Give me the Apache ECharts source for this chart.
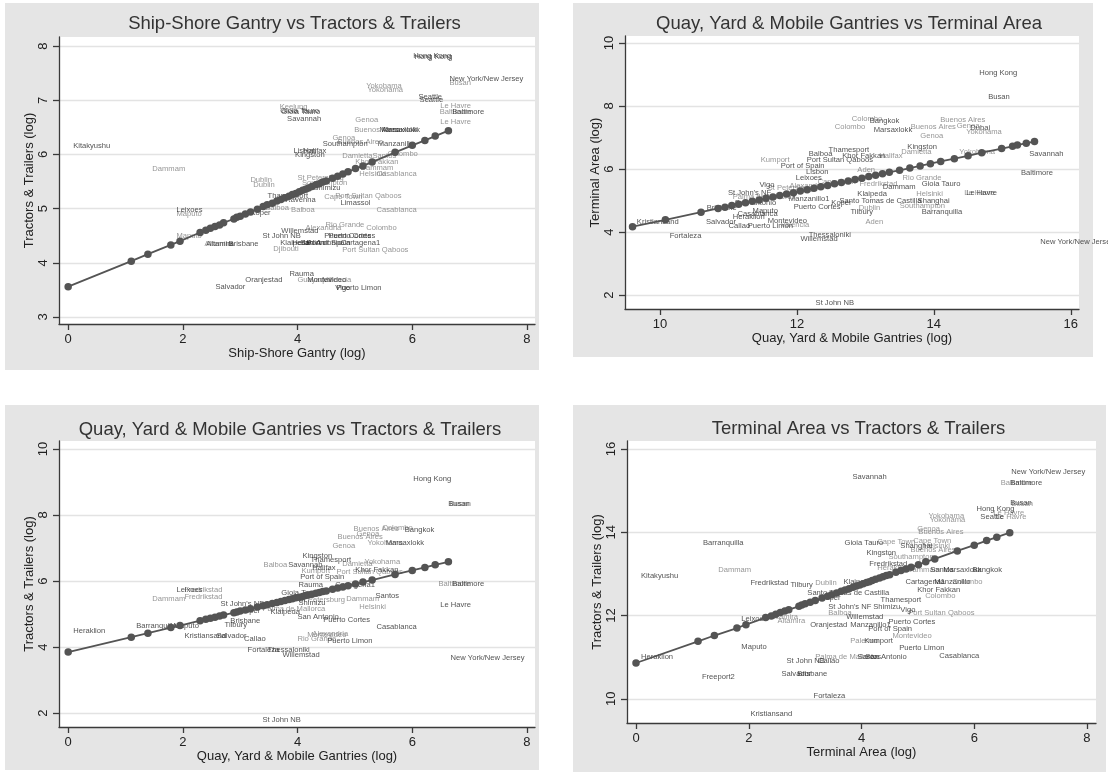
<!DOCTYPE html>
<html>
<head>
<meta charset="utf-8">
<script src="https://cdn.jsdelivr.net/npm/echarts@6.0.0/dist/echarts.min.js"></script>
<style>
html,body{margin:0;padding:0;background:#fff;}
#chart{width:1108px;height:776px;}
</style>
</head>
<body>
<div id="chart"></div>
<script>
// ---------------- DATA ----------------
const panelTitles = [
  "Ship-Shore Gantry vs Tractors & Trailers",
  "Quay, Yard & Mobile Gantries vs Terminal Area",
  "Quay, Yard & Mobile Gantries vs Tractors & Trailers",
  "Terminal Area vs Tractors & Trailers"
];
const xNames = ["Ship-Shore Gantry (log)", "Quay, Yard & Mobile Gantries (log)", "Quay, Yard & Mobile Gantries (log)", "Terminal Area (log)"];
const yNames = ["Tractors & Trailers (log)", "Terminal Area (log)", "Tractors & Trailers (log)", "Tractors & Trailers (log)"];

const p1XTicks = [0, 2, 4, 6, 8];
const p1YTicks = [3, 4, 5, 6, 7, 8];
const p2XTicks = [10, 12, 14, 16];
const p2YTicks = [2, 4, 6, 8, 10];
const p3XTicks = [0, 2, 4, 6, 8];
const p3YTicks = [2, 4, 6, 8, 10];
const p4XTicks = [0, 2, 4, 6, 8];
const p4YTicks = [10, 12, 14, 16];

// [name, x, y, shade(0 dark / 1 light)]
const p1Labels = [
  ["Kitakyushu",0.00,6.15,0],["Dammam",1.38,5.74,1],["Dublin",3.09,5.54,1],["Dublin",3.14,5.44,1],
  ["Leixoes",1.80,4.98,0],["Maputo",1.80,4.91,1],["Maputo",1.80,4.50,1],["Altamira",2.29,4.35,1],
  ["Altamira",2.32,4.35,0],["Brisbane",2.71,4.34,0],["St John NB",3.30,4.50,0],["Djibouti",3.49,4.26,1],
  ["Oranjestad",3.00,3.69,0],["Salvador",2.48,3.56,0],["Balboa",3.35,5.02,1],["Koper",3.09,4.93,0],
  ["Balboa",3.80,4.98,1],["Hong Kong",5.93,7.83,0],["Hong Kong",5.95,7.81,0],["New York/New Jersey",6.56,7.39,0],
  ["Busan",6.56,7.33,1],["Yokohama",5.11,7.26,1],["Yokohama",5.13,7.20,1],["Seattle",6.02,7.06,0],
  ["Seattle",6.04,7.00,0],["Le Havre",6.40,6.89,1],["Baltimore",6.39,6.78,1],["Baltimore",6.61,6.78,0],
  ["Le Havre",6.40,6.61,1],["Keelung",3.60,6.87,1],["Gioia Tauro",3.61,6.80,0],["Gioia Tauro",3.63,6.78,0],
  ["Savannah",3.73,6.65,0],["Genoa",4.92,6.63,1],["Buenos Aires",4.90,6.46,1],["Marsaxlokk",5.34,6.46,0],
  ["Marsaxlokk",5.38,6.46,0],["Genoa",4.52,6.31,1],["Buenos Aires",4.61,6.24,1],["Southampton",4.35,6.19,0],
  ["Manzanillo",5.31,6.19,0],["Lisbon",3.84,6.07,0],["Halifax",4.01,6.07,0],["Kingston",3.87,6.00,0],
  ["Damietta",4.69,5.98,1],["Santos",5.22,5.98,1],["Colombo",5.48,6.02,1],["Khor Fakkan",4.92,5.87,1],
  ["Dammam",5.01,5.76,1],["Helsinki",4.99,5.65,1],["Casablanca",5.29,5.65,1],["St Petersburg",3.91,5.57,1],
  ["Southampton",3.99,5.48,1],["Shimizu",4.19,5.39,0],["Cape Town",4.38,5.22,1],["Port Sultan Qaboos",4.57,5.24,1],
  ["Limassol",4.66,5.11,0],["Thamesport",3.39,5.24,0],["Ravenna",3.70,5.17,0],["Casablanca",5.29,4.98,1],
  ["Rio Grande",4.40,4.70,1],["Colombo",5.11,4.65,1],["Alexandria",4.05,4.65,1],["Willemstad",3.63,4.59,0],
  ["Puerto Cortes",4.45,4.50,0],["Puerto Cortes",4.38,4.50,0],["Klaipeda",3.61,4.37,0],["Heraklion",3.82,4.37,0],
  ["San Antonio",3.96,4.37,0],["Port of Spain",4.07,4.37,0],["Cartagena1",4.66,4.37,0],["Port Sultan Qaboos",4.69,4.24,1],
  ["Rauma",3.77,3.80,0],["Guayaquil",3.91,3.69,1],["Montevideo",4.08,3.69,0],["Valencia",4.35,3.69,1],
  ["Puerto Limon",4.59,3.54,0],["Vigo",4.57,3.54,0]
];
const p1FitX = [0,1.10,1.39,1.79,1.95,2.30,2.40,2.48,2.56,2.64,2.71,2.89,2.94,3.00,3.09,3.18,3.30,3.40,3.47,3.56,3.64,3.71,3.78,3.85,3.91,3.97,4.03,4.09,4.14,4.19,4.25,4.32,4.38,4.44,4.50,4.61,4.70,4.79,4.88,5.01,5.14,5.30,5.70,6.00,6.22,6.40,6.63];
const p1FitY = [3.56,4.03,4.16,4.33,4.40,4.56,4.60,4.64,4.67,4.70,4.74,4.81,4.84,4.86,4.90,4.94,4.99,5.04,5.07,5.10,5.14,5.17,5.20,5.23,5.26,5.28,5.31,5.34,5.36,5.38,5.41,5.44,5.46,5.49,5.51,5.56,5.60,5.64,5.68,5.74,5.79,5.86,6.04,6.17,6.26,6.34,6.44];

const p2Labels = [
  ["Kristiansand",9.59,4.32,0],["Fortaleza",10.07,3.87,0],["Brisbane",10.61,4.76,0],["San Antonio",11.02,4.92,0],
  ["Salvador",10.60,4.32,0],["Heraklion",10.99,4.48,0],["Casablanca",11.06,4.57,0],["Maputo",11.28,4.67,0],
  ["Callao",10.93,4.19,0],["Puerto Limon",11.21,4.19,0],["Montevideo",11.50,4.35,0],["Valencia",11.69,4.22,1],
  ["Thessaloniki",12.10,3.90,0],["Willemstad",11.98,3.78,0],["Manzanillo1",11.81,5.05,0],["Puerto Cortes",11.88,4.79,0],
  ["Koper",12.43,4.92,0],["Dublin",12.83,4.76,1],["Tilbury",12.71,4.63,0],["Santo Tomas de Castilla",12.55,4.98,0],
  ["Shanghai",13.69,4.98,0],["Southampton",13.43,4.83,1],["Barranquilla",13.75,4.63,0],["Aden",12.93,4.32,1],
  ["St John NB",12.20,1.75,0],["New York/New Jersey",15.48,3.68,0],["Helsinki",13.67,5.21,1],["Le Havre",14.37,5.24,1],
  ["Le Havre",14.40,5.24,0],["Klaipeda",12.81,5.21,0],["St John's NF",10.92,5.24,0],["St Petersburg",11.50,5.40,1],
  ["Palma de Mallorca",10.99,5.11,1],["Kumport",11.40,6.29,1],["Balboa",12.10,6.48,0],["Port Sultan Qaboos",12.07,6.29,0],
  ["Port of Spain",11.69,6.10,0],["Leixoes",11.91,5.71,0],["Hong Kong",14.59,9.05,0],["Busan",14.72,8.29,0],
  ["Colombo",12.73,7.59,1],["Bangkok",12.99,7.52,0],["Colombo",12.48,7.33,1],["Marsaxlokk",13.05,7.24,0],
  ["Buenos Aires",14.02,7.56,1],["Buenos Aires",13.59,7.33,1],["Genoa",14.26,7.37,1],["Dubai",14.46,7.30,0],
  ["Yokohama",14.40,7.17,1],["Genoa",13.73,7.05,1],["Kingston",13.54,6.70,0],["Thamesport",12.39,6.60,0],
  ["Damietta",13.45,6.54,1],["Khor Fakkan",12.59,6.41,0],["Halifax",13.13,6.41,1],["Yokohama",14.30,6.54,1],
  ["Savannah",15.32,6.48,0],["Baltimore",15.20,5.87,0],["Aden",12.81,5.97,1],["Rio Grande",13.47,5.71,1],
  ["Gioia Tauro",13.75,5.52,0],["Dammam",13.18,5.43,0],["Fredrikstad",12.84,5.52,1],["Lisbon",12.06,5.90,0],
  ["Cape Town",12.23,5.59,1],["Alexandria",11.82,5.46,1],["Vigo",11.38,5.49,0]
];
const p2FitX = [9.60,10.08,10.60,10.85,10.95,11.05,11.15,11.25,11.35,11.45,11.55,11.65,11.75,11.85,11.95,12.05,12.15,12.25,12.35,12.45,12.55,12.65,12.75,12.85,12.95,13.05,13.15,13.25,13.35,13.50,13.65,13.80,13.95,14.10,14.30,14.50,14.70,14.99,15.15,15.22,15.35,15.47];
const p2FitY = [4.17,4.39,4.63,4.75,4.79,4.84,4.88,4.93,4.98,5.02,5.07,5.11,5.16,5.21,5.25,5.30,5.34,5.39,5.44,5.48,5.53,5.57,5.62,5.67,5.71,5.76,5.80,5.85,5.90,5.96,6.03,6.10,6.17,6.24,6.33,6.42,6.52,6.65,6.72,6.76,6.82,6.87];

const p3Labels = [
  ["Heraklion",0.00,4.48,0],["Barranquilla",1.10,4.64,0],["Maputo",1.75,4.64,0],["Kristiansand",1.94,4.33,0],
  ["Salvador",2.50,4.33,0],["Callao",2.98,4.24,0],["Fortaleza",3.04,3.91,0],["Thessaloniki",3.39,3.91,0],
  ["Willemstad",3.65,3.76,0],["Leixoes",1.80,5.73,0],["Fredrikstad",1.94,5.73,1],["Fredrikstad",1.94,5.52,1],
  ["Dammam",1.38,5.45,1],["St John's NF",2.57,5.30,0],["Tilbury",2.64,4.67,0],["Brisbane",2.74,4.79,0],
  ["Balboa",3.32,6.48,1],["St John NB",3.30,1.79,0],["Hong Kong",5.93,9.09,0],["Busan",6.54,8.33,0],
  ["Busan",6.56,8.33,1],["Buenos Aires",4.89,7.58,1],["Colombo",5.39,7.61,1],["Bangkok",5.78,7.55,0],
  ["Genoa",4.94,7.42,1],["Buenos Aires",4.61,7.33,1],["Yokohama",5.13,7.15,1],["Marsaxlokk",5.45,7.15,0],
  ["Genoa",4.52,7.06,1],["Kingston",4.00,6.76,0],["Thamesport",4.14,6.64,0],["Yokohama",5.08,6.58,1],
  ["Damietta",4.69,6.52,1],["Savannah",3.75,6.48,0],["Halifax",4.17,6.39,0],["Kumport",3.98,6.30,1],
  ["Khor Fakkan",4.92,6.33,0],["Port Sultan Qaboos",4.59,6.27,1],["Port of Spain",3.96,6.12,0],["Baltimore",6.37,5.91,1],
  ["Baltimore",6.61,5.91,0],["Le Havre",6.40,5.27,0],["Casablanca",5.29,4.61,0],["Rio Grande",3.91,4.24,1],
  ["Montevideo",4.08,4.36,1],["Alexandria",4.17,4.39,1],["Puerto Limon",4.43,4.18,0],["New York/New Jersey",6.58,3.67,0],
  ["Santos",5.27,5.55,0],["Helsinki",4.99,5.21,1],["Dammam",4.76,5.45,1],["Rauma",3.93,5.88,0],
  ["Cartagena1",4.57,5.88,0],["St Petersburg",3.93,5.42,1],["Shimizu",3.93,5.33,0],["San Antonio",3.91,4.91,0],
  ["Puerto Cortes",4.36,4.82,0],["Palma de Mallorca",3.30,5.15,1],["Gioia Tauro",3.63,5.64,0],["Klaipeda",3.44,5.06,0],
  ["Koper",2.91,5.09,0]
];
const p3FitX = [0,1.10,1.39,1.79,1.95,2.30,2.40,2.48,2.56,2.64,2.71,2.89,2.94,3.00,3.09,3.18,3.30,3.40,3.47,3.56,3.64,3.71,3.78,3.85,3.91,3.97,4.03,4.09,4.14,4.19,4.25,4.32,4.38,4.44,4.50,4.61,4.70,4.79,4.88,5.01,5.14,5.30,5.70,6.00,6.22,6.40,6.63];
const p3FitY = [3.85,4.30,4.42,4.59,4.65,4.80,4.84,4.87,4.90,4.94,4.97,5.04,5.06,5.09,5.12,5.16,5.21,5.25,5.28,5.32,5.35,5.38,5.41,5.44,5.46,5.49,5.51,5.53,5.56,5.58,5.60,5.63,5.65,5.68,5.70,5.75,5.79,5.82,5.86,5.91,5.97,6.03,6.20,6.32,6.41,6.49,6.58];

const p4Labels = [
  ["Barranquilla",1.10,13.75,0],["Dammam",1.37,13.10,1],["Kitakyushu",0.00,12.95,0],["Fredrikstad",1.94,12.79,0],
  ["Tilbury",2.65,12.74,0],["Dublin",3.09,12.79,1],["Santo Tomas de Castilla",2.95,12.55,0],["Leixoes",1.78,11.92,0],
  ["Altamira",2.29,11.97,1],["Altamira",2.42,11.88,1],["Oranjestad",3.00,11.78,0],["Maputo",1.78,11.25,0],
  ["Heraklion",0.00,11.01,0],["St John NB",2.58,10.92,0],["Callao",3.14,10.92,0],["Salvador",2.49,10.60,0],
  ["Brisbane",2.77,10.60,0],["Freeport2",1.08,10.53,0],["Kristiansand",1.94,9.64,0],["Fortaleza",3.06,10.08,0],
  ["New York/New Jersey",6.57,15.45,0],["Savannah",3.75,15.33,0],["Baltimore",6.38,15.18,1],["Baltimore",6.55,15.18,0],
  ["Busan",6.55,14.71,0],["Busan",6.57,14.69,1],["Hong Kong",5.95,14.56,0],["Seattle",6.02,14.37,0],
  ["Le Havre",6.25,14.47,1],["Le Havre",6.29,14.37,1],["Yokohama",5.10,14.39,1],["Yokohama",5.12,14.30,1],
  ["Genoa",4.90,14.08,1],["Buenos Aires",4.92,14.01,1],["Gioia Tauro",3.61,13.75,0],["Cape Town",4.19,13.77,1],
  ["Cape Town",4.83,13.79,1],["Shanghai",4.60,13.67,0],["Helsinki",5.01,13.67,1],["Kingston",4.00,13.51,0],
  ["Buenos Aires",4.78,13.58,1],["Southampton",4.39,13.41,1],["Fredrikstad",4.05,13.24,0],["Heraklion",4.19,13.15,1],
  ["Dammam",4.72,13.10,1],["Santos",5.13,13.10,0],["Marsaxlokk",5.36,13.10,0],["Bangkok",5.88,13.10,0],
  ["Klaipeda",3.59,12.81,0],["Cartagena1",4.69,12.81,0],["Manzanillo",5.20,12.81,0],["Colombo",5.52,12.81,1],
  ["Colombo",5.04,12.47,1],["Khor Fakkan",4.90,12.62,0],["Koper",3.18,12.43,0],["Thamesport",4.25,12.38,0],
  ["St John's NF",3.32,12.21,0],["Shimizu",4.12,12.21,0],["Balboa",3.32,12.07,1],["Vigo",4.60,12.14,0],
  ["Port Sultan Qaboos",4.74,12.07,1],["Willemstad",3.64,11.97,0],["Puerto Cortes",4.39,11.85,0],["Manzanillo1",3.71,11.78,0],
  ["Port of Spain",4.03,11.68,0],["Montevideo",4.46,11.52,1],["Kumport",3.96,11.40,0],["Palermo",3.71,11.40,1],
  ["Puerto Limon",4.58,11.23,0],["Casablanca",5.29,11.04,0],["Palma de Mallorca",3.09,11.01,1],["San Antonio",3.98,11.01,0],
  ["Santos",3.84,11.01,0]
];
const p4FitX = [0,1.10,1.39,1.79,1.95,2.30,2.40,2.48,2.56,2.64,2.71,2.89,2.94,3.00,3.09,3.18,3.30,3.40,3.47,3.56,3.64,3.71,3.78,3.85,3.91,3.97,4.03,4.09,4.14,4.19,4.25,4.32,4.38,4.44,4.50,4.61,4.70,4.79,4.88,5.01,5.14,5.30,5.70,6.00,6.22,6.40,6.63];
const p4FitY = [10.86,11.38,11.52,11.70,11.78,11.95,11.99,12.03,12.07,12.11,12.14,12.22,12.25,12.28,12.32,12.36,12.42,12.46,12.50,12.54,12.58,12.61,12.64,12.68,12.71,12.73,12.76,12.79,12.81,12.84,12.87,12.90,12.93,12.96,12.98,13.04,13.08,13.12,13.16,13.22,13.29,13.36,13.55,13.69,13.80,13.88,13.99];

// ---------------- LAYOUT / STYLE ----------------
const FONT = "'Liberation Sans', Arial, sans-serif";
const DARK = '#262626', LIGHT = '#7a7a7a', FIT = '#545454', AXIS = '#3a3a3a';
const panels = [
  {bg:[5,3,534,367],   grid:{left:59, top:37, width:476, height:287}, x:[-0.16,8.14], y:[2.87,8.17], xt:p1XTicks, yt:p1YTicks, lab:p1Labels, fx:p1FitX, fy:p1FitY, tx:294.5, ty:24},
  {bg:[573,3,520,354], grid:{left:625, top:36, width:454, height:273}, x:[9.49,16.12], y:[1.56,10.22], xt:p2XTicks, yt:p2YTicks, lab:p2Labels, fx:p2FitX, fy:p2FitY, tx:849, ty:24},
  {bg:[5,405,534,365], grid:{left:59, top:441, width:476, height:286}, x:[-0.16,8.14], y:[1.58,10.24], xt:p3XTicks, yt:p3YTicks, lab:p3Labels, fx:p3FitX, fy:p3FitY, tx:290, ty:430},
  {bg:[573,405,533,367], grid:{left:627, top:441, width:469, height:282}, x:[-0.16,8.16], y:[9.42,16.19], xt:p4XTicks, yt:p4YTicks, lab:p4Labels, fx:p4FitX, fy:p4FitY, tx:858.5, ty:429}
];

const grids = [], xAxes = [], yAxes = [], series = [], graphics = [];
panels.forEach((p, i) => {
  graphics.push({type:'rect', z:-10, shape:{x:p.bg[0], y:p.bg[1], width:p.bg[2], height:p.bg[3]}, style:{fill:'#e5e5e5'}, silent:true});
  graphics.push({type:'text', z:10, x:p.tx, y:p.ty, style:{text:panelTitles[i], font:'18.5px ' + FONT, fill:'#333', textAlign:'center', textVerticalAlign:'middle'}, silent:true});
  grids.push(Object.assign({show:true, backgroundColor:'#ffffff', borderWidth:0, containLabel:false}, p.grid));
  xAxes.push({
    type:'value', gridIndex:i, min:p.x[0], max:p.x[1],
    name:xNames[i], nameLocation:'middle', nameGap:23,
    nameTextStyle:{fontSize:13, color:'#222', fontFamily:FONT},
    axisLine:{show:true, onZero:false, lineStyle:{color:AXIS, width:1.3}},
    axisTick:{show:true, length:6, customValues:p.xt, lineStyle:{color:AXIS, width:1.3}},
    axisLabel:{customValues:p.xt, fontSize:13, color:'#222', margin:9, fontFamily:FONT},
    splitLine:{show:false}
  });
  yAxes.push({
    type:'value', gridIndex:i, min:p.y[0], max:p.y[1],
    name:yNames[i], nameLocation:'middle', nameGap:23,
    nameTextStyle:{fontSize:13, color:'#222', fontFamily:FONT},
    axisLine:{show:true, onZero:false, lineStyle:{color:AXIS, width:1.3}},
    axisTick:{show:true, length:6, customValues:p.yt, lineStyle:{color:AXIS, width:1.3}},
    axisLabel:{customValues:p.yt, rotate:90, fontSize:13, color:'#222', margin:9, fontFamily:FONT},
    splitLine:{show:true, lineStyle:{color:'#e3e3e3', width:1.3}}
  });
  [1, 0].forEach(shade => {
    series.push({
      type:'scatter', xAxisIndex:i, yAxisIndex:i, silent:true, z:3,
      data:p.lab.filter(d => d[3] === shade).map(d => ({name:d[0], value:[d[1], d[2]]})),
      symbolSize:1, itemStyle:{color:'rgba(0,0,0,0)'},
      label:{show:true, position:'right', distance:4.5, formatter:'{b}', fontSize:7.6, fontFamily:FONT, color: shade ? LIGHT : DARK},
      labelLayout:{hideOverlap:false},
      emphasis:{disabled:true}
    });
  });
  series.push({
    type:'line', xAxisIndex:i, yAxisIndex:i, silent:true, z:5,
    data:p.fx.map((x, k) => [x, p.fy[k]]),
    symbol:'circle', symbolSize:7.5, showSymbol:true,
    lineStyle:{color:FIT, width:1.8}, itemStyle:{color:FIT},
    emphasis:{disabled:true}
  });
});

const chart = echarts.init(document.getElementById('chart'), null, {renderer:'canvas'});
chart.setOption({
  animation:false,
  backgroundColor:'#ffffff',
  textStyle:{fontFamily:FONT},
  graphic:{elements:graphics},
  grid:grids, xAxis:xAxes, yAxis:yAxes, series:series
});
</script>
</body>
</html>
